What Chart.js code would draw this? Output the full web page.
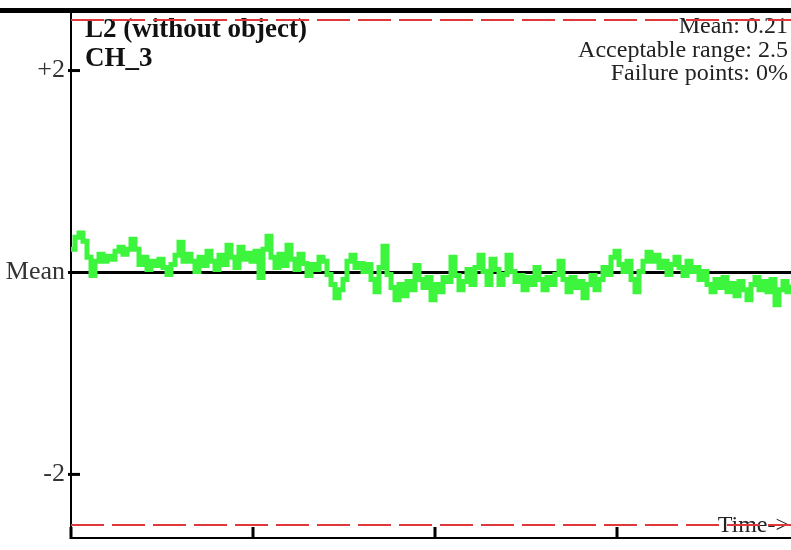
<!DOCTYPE html>
<html>
<head>
<meta charset="utf-8">
<script src="https://cdn.jsdelivr.net/npm/chart.js@4"></script>
<style>
  body { margin: 0; background: #fff; }
  canvas { display: block; }
</style>
</head>
<body>
<canvas id="signalChart" width="791" height="550"></canvas>
<script>
// sampled signal (deviation from mean), one value per sample
const signal = [
  0.23, 0.35, 0.39, 0.31, 0.15, -0.03, 0.11, 0.18, 0.11, 0.16,
  0.13, 0.21, 0.25, 0.18, 0.23, 0.33, 0.23, 0.08, 0.15, 0.03,
  0.11, 0.07, 0.13, 0.05, -0.02, 0.08, 0.17, 0.30, 0.11, 0.18,
  0.11, 0.01, 0.15, 0.07, 0.21, 0.11, 0.03, 0.17, 0.08, 0.27,
  0.15, 0.05, 0.25, 0.13, 0.19, 0.11, 0.21, -0.05, 0.23, 0.36,
  0.15, 0.05, 0.18, 0.07, 0.27, 0.13, 0.03, 0.18, 0.09, -0.03,
  0.08, 0.03, 0.15, 0.11, -0.02, -0.12, -0.25, -0.17, -0.07, 0.11,
  0.17, 0.05, 0.09, 0.01, 0.08, -0.07, -0.19, 0.05, 0.26, -0.02,
  -0.15, -0.27, -0.12, -0.23, -0.09, -0.17, 0.07, -0.07, -0.15, -0.05,
  -0.27, -0.12, -0.19, -0.05, -0.09, 0.15, -0.03, -0.17, -0.09, 0.03,
  -0.12, 0.05, 0.17, 0.01, -0.12, 0.13, 0.03, -0.12, -0.02, 0.17,
  0.01, -0.09, -0.03, -0.17, -0.05, -0.12, 0.05, -0.07, -0.17, -0.05,
  -0.12, -0.02, 0.11, -0.07, -0.19, -0.05, -0.15, -0.09, -0.25, -0.12,
  -0.03, -0.17, -0.07, 0.05, -0.02, 0.15, 0.21, 0.08, 0.01, 0.11,
  -0.07, -0.19, 0.01, 0.11, 0.20, 0.11, 0.17, 0.05, 0.11, -0.02,
  0.08, 0.15, 0.05, -0.03, 0.11, 0.01, 0.05, -0.07, 0.01, -0.12,
  -0.19, -0.07, -0.15, -0.05, -0.19, -0.11, -0.23, -0.09, -0.17, -0.27,
  -0.12, -0.05, -0.17, -0.09, -0.19, -0.07, -0.32, -0.17, -0.09, -0.19,
  -0.12
];
const acceptableRange = 2.5;
const yTickValues = [-2, 0, 2];
const yTickLabels = ["-2", "Mean", "+2"];
const timeTicks = [0, 45.5, 91, 136.5];
const titleLines = ["L2 (without object)", "CH_3"];
const statLines = ["Mean: 0.21", "Acceptable range: 2.5", "Failure points: 0%"];

const lastSample = signal.length - 1;
const signalPoints = signal.map((v, i) => ({ x: i, y: v }));
const flatLine = v => [{ x: 0, y: v }, { x: lastSample, y: v }];

const decorations = {
  id: "decorations",
  beforeDatasetsDraw(chart) {
    const c = chart.ctx;
    const area = chart.chartArea;
    const x = chart.scales.x;
    const y = chart.scales.y;
    c.save();
    // heavy frame line across the top
    c.fillStyle = "#000";
    c.fillRect(0, 8, chart.width, 5);

    // y ticks (short marks across the axis)
    c.strokeStyle = "#000";
    c.lineWidth = 3;
    yTickValues.forEach(v => {
      const py = y.getPixelForValue(v);
      c.beginPath();
      c.moveTo(area.left - 3, py);
      c.lineTo(area.left + 9, py);
      c.stroke();
    });
    // x ticks, pointing up from the bottom axis
    timeTicks.forEach(t => {
      const px = x.getPixelForValue(t);
      c.beginPath();
      c.moveTo(px, area.bottom + 1);
      c.lineTo(px, area.bottom - 11);
      c.stroke();
    });

    // titles
    c.fillStyle = "#111";
    c.font = "bold 27px 'Liberation Serif'";
    c.textAlign = "left";
    c.textBaseline = "alphabetic";
    c.fillText(titleLines[0], area.left + 14, 37);
    c.fillText(titleLines[1], area.left + 14, 66);

    // stats
    c.fillStyle = "#222";
    c.font = "24px 'Liberation Serif'";
    c.textAlign = "right";
    statLines.forEach((s, i) => c.fillText(s, chart.width - 3, 33 + i * 23.5));

    c.fillText("Time->", chart.width - 2, 532);
    c.restore();
  }
};

new Chart(document.getElementById("signalChart"), {
  type: "line",
  data: {
    datasets: [
      {
        data: signalPoints,
        borderColor: "#3cf53c",
        borderWidth: 5,
        pointRadius: 0,
        stepped: true,
        order: 0
      },
      {
        data: flatLine(acceptableRange),
        borderColor: "#e0383a",
        borderWidth: 2,
        borderDash: [33, 8],
        pointRadius: 0,
        order: 1
      },
      {
        data: flatLine(-acceptableRange),
        borderColor: "#e0383a",
        borderWidth: 2,
        borderDash: [33, 8],
        pointRadius: 0,
        order: 1
      },
      {
        data: flatLine(0),
        borderColor: "#000",
        borderWidth: 3,
        pointRadius: 0,
        order: 2
      }
    ]
  },
  options: {
    responsive: false,
    animation: false,
    layout: { padding: { top: 13, right: 0, left: 0, bottom: 0 } },
    plugins: { legend: { display: false }, tooltip: { enabled: false } },
    scales: {
      x: {
        type: "linear",
        min: 0,
        max: lastSample,
        grid: { display: false },
        border: { color: "#000", width: 2 },
        ticks: { display: false },
        afterFit(scale) {
          scale.height = 12;
          scale.paddingLeft = 0;
          scale.paddingRight = 0;
        }
      },
      y: {
        min: -2.63,
        max: 2.57,
        grid: { display: false },
        border: { color: "#000", width: 2 },
        afterBuildTicks(scale) {
          scale.ticks = yTickValues.map(v => ({ value: v }));
        },
        ticks: {
          padding: -2,
          color: "#333",
          font: { family: "Liberation Serif", size: 26 },
          callback: v => yTickLabels[yTickValues.indexOf(v)]
        },
        afterFit(scale) {
          scale.width = 71;
          scale.paddingTop = 0;
          scale.paddingBottom = 0;
        }
      }
    }
  },
  plugins: [decorations]
});
</script>
</body>
</html>
